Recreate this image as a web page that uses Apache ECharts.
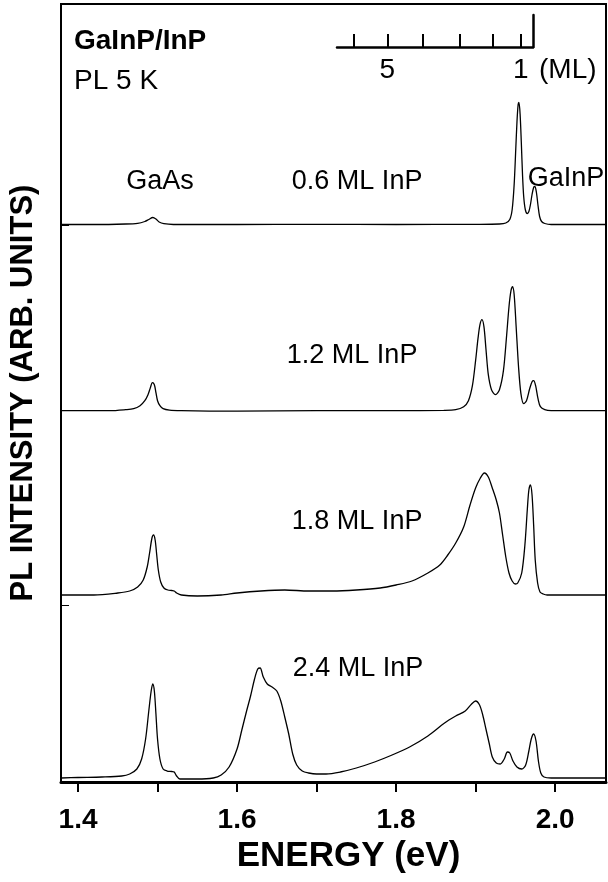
<!DOCTYPE html>
<html>
<head>
<meta charset="utf-8">
<script src="https://cdn.jsdelivr.net/npm/echarts@6/dist/echarts.min.js"></script>
<style>html,body{margin:0;padding:0;background:#fff}#c{width:608px;height:882px}</style>
</head>
<body>
<div id="c"></div>
<script>
// ---------------- data ----------------
const energyTicks = [1.4, 1.5, 1.6, 1.7, 1.8, 1.9, 2.0];
const energyLabels = [1.4, 1.6, 1.8, 2.0];
const xMin = 1.3786, xMax = 2.064;

// inset monolayer scale (positions in eV)
const mlTicks = [1.747, 1.789, 1.8336, 1.8805, 1.9216, 1.9569];
const mlLabelValues = [1.789, 1.9569];
const mlLabelTexts = ['5', '1'];
const mlMin = 1.7258, mlMax = 1.9723;

const curveNames = ['0.6 ML InP', '1.2 ML InP', '1.8 ML InP', '2.4 ML InP'];
const curveOffsets = [5.575, 3.713, 1.87, 0.03];

const spec06 = [
  [1.379,0],[1.42,0],[1.46,0.005],[1.475,0.012],[1.484,0.03],[1.489,0.05],[1.494,0.07],[1.498,0.055],[1.502,0.025],[1.508,0.008],[1.52,0],
  [1.6,0],[1.7,0.002],[1.8,0],[1.9,0.002],[1.93,0.005],[1.938,0.015],[1.943,0.05],[1.946,0.15],[1.9485,0.4],[1.9505,0.75],
  [1.952,1.02],[1.9535,1.2],[1.9545,1.22],[1.956,1.1],[1.9575,0.82],[1.959,0.5],[1.9605,0.28],[1.9625,0.15],[1.965,0.11],
  [1.967,0.13],[1.969,0.2],[1.971,0.3],[1.973,0.37],[1.9745,0.38],[1.9765,0.32],[1.9785,0.19],[1.9805,0.08],[1.983,0.03],
  [1.987,0.01],[1.995,0],[2.03,0],[2.064,0]
];
const spec12 = [
  [1.379,0],[1.44,0],[1.46,0.01],[1.47,0.02],[1.478,0.05],[1.484,0.1],[1.488,0.16],[1.491,0.23],[1.4935,0.28],[1.496,0.26],
  [1.498,0.18],[1.5,0.1],[1.503,0.05],[1.507,0.02],[1.515,0.005],[1.53,0],[1.6,-0.005],[1.7,0],[1.8,0],[1.86,0.003],[1.875,0.01],
  [1.885,0.04],[1.891,0.1],[1.896,0.25],[1.9,0.5],[1.903,0.72],[1.9055,0.86],[1.908,0.91],[1.9105,0.84],[1.913,0.62],
  [1.916,0.36],[1.92,0.21],[1.925,0.16],[1.93,0.21],[1.935,0.4],[1.939,0.75],[1.942,1.04],[1.9445,1.2],[1.9465,1.24],
  [1.9485,1.16],[1.951,0.84],[1.954,0.44],[1.957,0.17],[1.9605,0.07],[1.964,0.1],[1.968,0.22],[1.971,0.29],[1.973,0.3],
  [1.9755,0.25],[1.9785,0.12],[1.9815,0.04],[1.987,0.01],[1.995,0],[2.064,0]
];
const spec18 = [
  [1.379,0],[1.42,0],[1.45,0.02],[1.465,0.04],[1.475,0.08],[1.482,0.15],[1.487,0.28],[1.49,0.42],[1.493,0.57],[1.495,0.6],
  [1.497,0.55],[1.499,0.4],[1.501,0.25],[1.504,0.13],[1.508,0.07],[1.513,0.05],[1.518,0.045],[1.521,0.04],[1.524,0.02],
  [1.53,0],[1.55,-0.01],[1.58,0],[1.6,0.02],[1.63,0.04],[1.66,0.05],[1.69,0.04],[1.72,0.04],[1.75,0.05],[1.78,0.07],
  [1.8,0.1],[1.82,0.14],[1.84,0.22],[1.855,0.3],[1.865,0.4],[1.875,0.52],[1.885,0.68],[1.893,0.9],[1.9,1.07],[1.906,1.17],
  [1.911,1.22],[1.916,1.18],[1.921,1.07],[1.926,0.95],[1.93,0.82],[1.934,0.6],[1.938,0.38],[1.942,0.22],[1.946,0.14],
  [1.95,0.11],[1.953,0.12],[1.958,0.22],[1.962,0.5],[1.965,0.85],[1.967,1.05],[1.969,1.1],[1.971,1.0],[1.973,0.7],
  [1.975,0.35],[1.978,0.12],[1.981,0.03],[1.985,0.01],[1.99,0],[2.064,0]
];
const spec24 = [
  [1.379,0.01],[1.4,0.015],[1.43,0.02],[1.455,0.03],[1.465,0.05],[1.474,0.1],[1.48,0.2],[1.485,0.4],[1.489,0.68],[1.492,0.88],
  [1.494,0.95],[1.496,0.88],[1.498,0.65],[1.5,0.4],[1.503,0.2],[1.507,0.1],[1.512,0.08],[1.518,0.075],[1.521,0.07],
  [1.524,0.03],[1.528,0],[1.55,0],[1.57,0.01],[1.58,0.04],[1.59,0.12],[1.6,0.3],[1.606,0.49],[1.612,0.68],[1.617,0.83],
  [1.622,1.0],[1.626,1.1],[1.629,1.11],[1.633,1.02],[1.638,0.95],[1.644,0.92],[1.65,0.88],[1.655,0.78],[1.66,0.62],
  [1.665,0.45],[1.67,0.25],[1.675,0.14],[1.682,0.08],[1.69,0.06],[1.7,0.05],[1.712,0.05],[1.73,0.07],[1.75,0.11],
  [1.773,0.17],[1.795,0.24],[1.817,0.32],[1.84,0.43],[1.861,0.56],[1.875,0.63],[1.887,0.68],[1.895,0.75],[1.9,0.78],
  [1.905,0.74],[1.909,0.64],[1.913,0.5],[1.917,0.36],[1.921,0.22],[1.926,0.16],[1.931,0.15],[1.936,0.2],[1.94,0.27],
  [1.943,0.26],[1.947,0.18],[1.952,0.12],[1.958,0.1],[1.963,0.14],[1.967,0.28],[1.97,0.4],[1.973,0.45],[1.976,0.38],
  [1.979,0.18],[1.982,0.06],[1.986,0.02],[1.995,0.01],[2.02,0.01],[2.064,0.01]
];
const spectra = [spec06, spec12, spec18, spec24];

// annotation labels: [energy, intensity-axis value, text]
const annotations = [
  [1.5031, 6.00, 'GaAs'],
  [1.751, 6.00, '0.6 ML InP'],
  [2.0138, 6.03, 'GaInP'],
  [1.7447, 4.26, '1.2 ML InP'],
  [1.751, 2.60, '1.8 ML InP'],
  [1.7522, 1.13, '2.4 ML InP']
];
const baselineTicks = [5.57, 3.72, 1.77];

// ---------------- chart ----------------
const FONT = 'Liberation Sans';
const chart = echarts.init(document.getElementById('c'), null, {renderer: 'canvas'});

const lineSeries = spectra.map((s, i) => ({
  name: curveNames[i],
  type: 'line',
  xAxisIndex: 0, yAxisIndex: 0,
  data: s.map(p => [p[0], p[1] + curveOffsets[i]]),
  showSymbol: false,
  smooth: 0.3,
  lineStyle: {color: '#000', width: 1.3},
  silent: true,
  z: 3
}));

const option = {
  backgroundColor: '#fff',
  animation: false,
  textStyle: {fontFamily: FONT, color: '#000'},
  title: {
    text: 'GaInP/InP',
    subtext: 'PL 5 K',
    left: 74, top: 27, padding: 0, itemGap: 12,
    textStyle: {fontFamily: FONT, fontSize: 28, fontWeight: 'bold', color: '#000'},
    subtextStyle: {fontFamily: FONT, fontSize: 28, color: '#000'}
  },
  grid: [
    {left: 61, right: 2, top: 4, bottom: 100, show: true, borderColor: '#000', borderWidth: 2, backgroundColor: 'transparent'},
    {left: 337, width: 196, top: 15, height: 32, show: false}
  ],
  xAxis: [
    {
      type: 'value', gridIndex: 0, min: xMin, max: xMax,
      name: 'ENERGY (eV)', nameLocation: 'middle', nameGap: 56,
      nameTextStyle: {fontFamily: FONT, fontSize: 35, fontWeight: 'bold', color: '#000', padding: [0, 0, 0, 30]},
      axisLine: {show: true, onZero: false, lineStyle: {color: '#000', width: 3}},
      axisTick: {show: true, inside: false, length: 10, lineStyle: {color: '#000', width: 2}, customValues: energyTicks},
      axisLabel: {show: true, margin: 24, fontFamily: FONT, fontSize: 28, fontWeight: 'bold', color: '#000',
        customValues: energyLabels, formatter: v => v.toFixed(1)},
      splitLine: {show: false}
    },
    {
      type: 'value', gridIndex: 1, min: mlMin, max: mlMax, position: 'bottom',
      name: '(ML)', nameLocation: 'end', nameGap: 6,
      nameTextStyle: {fontFamily: FONT, fontSize: 28, color: '#000', verticalAlign: 'top', padding: [9, 0, 0, 0]},
      axisLine: {show: true, onZero: false, lineStyle: {color: '#000', width: 2.5}},
      axisTick: {show: true, inside: true, length: 13, lineStyle: {color: '#000', width: 2}, customValues: mlTicks},
      axisLabel: {show: true, margin: 9, fontFamily: FONT, fontSize: 28, color: '#000',
        customValues: mlLabelValues,
        formatter: v => { const k = mlLabelValues.findIndex(m => Math.abs(m - v) < 1e-6); return k >= 0 ? mlLabelTexts[k] : ''; }},
      splitLine: {show: false}
    }
  ],
  yAxis: [
    {
      type: 'value', gridIndex: 0, min: 0, max: 7.78,
      name: 'PL INTENSITY (ARB. UNITS)', nameLocation: 'middle', nameGap: 22, nameRotate: 90,
      nameTextStyle: {fontFamily: FONT, fontSize: 31, fontWeight: 'bold', color: '#000'},
      axisLine: {show: false},
      axisTick: {show: true, inside: true, length: 8, lineStyle: {color: '#000', width: 1}, customValues: baselineTicks},
      axisLabel: {show: false},
      splitLine: {show: false}
    },
    {
      type: 'value', gridIndex: 1, min: 0, max: 1, position: 'right',
      axisLine: {show: true, onZero: false, lineStyle: {color: '#000', width: 2.5}},
      axisTick: {show: false}, axisLabel: {show: false}, splitLine: {show: false}
    }
  ],
  series: lineSeries.concat([{
    type: 'scatter', xAxisIndex: 0, yAxisIndex: 0,
    symbolSize: 0, itemStyle: {color: '#000', opacity: 1}, silent: true,
    data: annotations.map(a => ({value: [a[0], a[1]], name: a[2]})),
    label: {show: true, position: 'inside', formatter: '{b}', fontFamily: FONT, fontSize: 27, color: '#000',
      opacity: 1, textBorderWidth: 0, align: 'center', verticalAlign: 'middle'},
    z: 4
  }])
};
chart.setOption(option);
</script>
</body>
</html>
